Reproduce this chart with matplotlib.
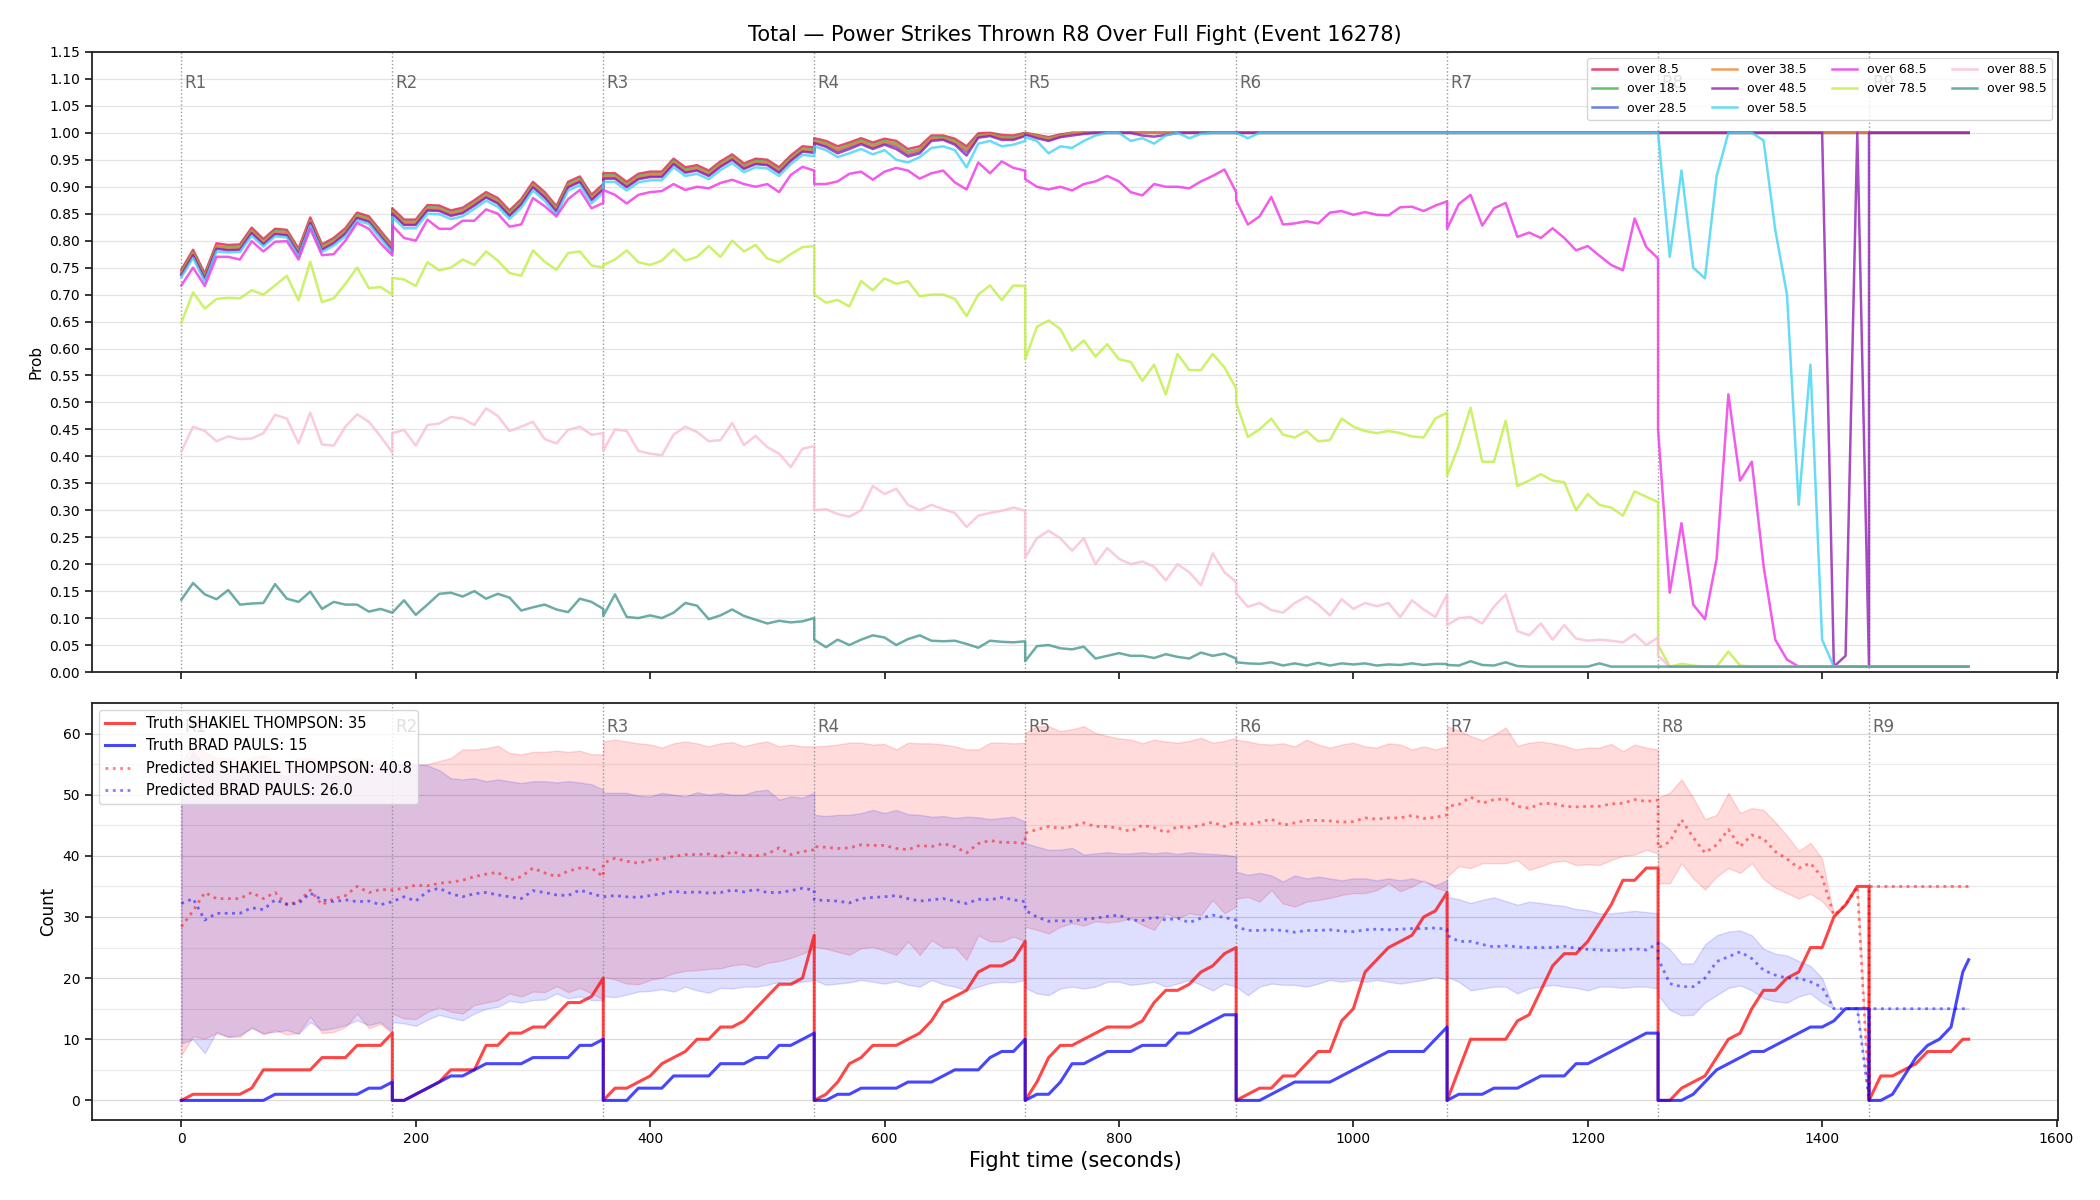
import numpy as np
import matplotlib.pyplot as plt
import matplotlib.transforms as mtransforms
from matplotlib.ticker import FormatStrFormatter, MultipleLocator

# ------------------------------------------------------------------
# time grid: every round sampled every 10 s, round boundary repeated
# so the per-round resets draw as vertical jumps. R9 stops at 1525 s.
# ------------------------------------------------------------------
round_starts = [0, 180, 360, 540, 720, 900, 1080, 1260, 1440]
round_names = ["R1", "R2", "R3", "R4", "R5", "R6", "R7", "R8", "R9"]
offsets = list(range(0, 181, 10))
offsets_r9 = [0, 10, 20, 30, 40, 50, 60, 70, 80, 85]
t = np.array([s + o for s in round_starts[:8] for o in offsets] + [1440 + o for o in offsets_r9])

# ---------------- top panel: P(over x.5) ----------------
over_8_5 = [
    0.746, 0.783, 0.739, 0.795, 0.792, 0.793, 0.824, 0.803, 0.822, 0.820, 0.785, 0.843, 0.793, 0.805, 0.823, 0.852, 0.845, 0.818, 0.792,
    0.860, 0.839, 0.839, 0.866, 0.865, 0.856, 0.861, 0.875, 0.890, 0.879, 0.856, 0.877, 0.909, 0.890, 0.864, 0.909, 0.919, 0.885, 0.905,
    0.925, 0.925, 0.909, 0.924, 0.928, 0.928, 0.952, 0.936, 0.940, 0.930, 0.947, 0.960, 0.943, 0.952, 0.950, 0.936, 0.958, 0.975, 0.973,
    0.990, 0.985, 0.975, 0.982, 0.990, 0.982, 0.989, 0.985, 0.970, 0.975, 0.995, 0.995, 0.989, 0.975, 0.999, 1.000, 0.996, 0.995, 1.000,
    1.000, 0.996, 0.992, 0.997, 1.000] + [1.0] * 14 + [1.0] * 19 * 3 + [1.0] * 10
over_18_5 = [
    0.742, 0.779, 0.736, 0.790, 0.788, 0.789, 0.820, 0.799, 0.818, 0.816, 0.781, 0.838, 0.789, 0.801, 0.819, 0.848, 0.841, 0.814, 0.788,
    0.856, 0.835, 0.835, 0.862, 0.861, 0.852, 0.857, 0.871, 0.886, 0.875, 0.852, 0.873, 0.905, 0.886, 0.860, 0.905, 0.915, 0.881, 0.901,
    0.921, 0.921, 0.905, 0.920, 0.924, 0.924, 0.948, 0.932, 0.936, 0.926, 0.943, 0.956, 0.939, 0.948, 0.946, 0.932, 0.954, 0.971, 0.969,
    0.987, 0.981, 0.970, 0.978, 0.986, 0.978, 0.985, 0.980, 0.965, 0.970, 0.991, 0.992, 0.985, 0.970, 0.996, 0.998, 0.993, 0.992, 0.998,
    0.999, 0.995, 0.990, 0.995, 1.000] + [1.0] * 14 + [1.0] * 19 * 3 + [1.0] * 10
over_28_5 = [
    0.738, 0.775, 0.731, 0.787, 0.784, 0.785, 0.816, 0.795, 0.814, 0.812, 0.777, 0.835, 0.785, 0.797, 0.815, 0.844, 0.837, 0.810, 0.784,
    0.852, 0.831, 0.831, 0.858, 0.857, 0.848, 0.853, 0.867, 0.882, 0.871, 0.848, 0.869, 0.901, 0.882, 0.856, 0.901, 0.911, 0.877, 0.897,
    0.917, 0.917, 0.901, 0.916, 0.920, 0.920, 0.944, 0.928, 0.932, 0.922, 0.939, 0.952, 0.935, 0.944, 0.942, 0.928, 0.950, 0.967, 0.965,
    0.983, 0.977, 0.966, 0.974, 0.982, 0.973, 0.981, 0.975, 0.960, 0.966, 0.988, 0.989, 0.981, 0.965, 0.993, 0.996, 0.990, 0.989, 0.996,
    0.998, 0.993, 0.987, 0.993, 0.998] + [1.0] * 14 + [1.0] * 19 * 3 + [1.0] * 10
over_38_5 = [
    0.740, 0.777, 0.733, 0.789, 0.786, 0.787, 0.818, 0.797, 0.816, 0.814, 0.779, 0.837, 0.787, 0.799, 0.817, 0.846, 0.839, 0.812, 0.786,
    0.854, 0.833, 0.833, 0.860, 0.859, 0.850, 0.855, 0.869, 0.884, 0.873, 0.850, 0.871, 0.903, 0.884, 0.858, 0.903, 0.913, 0.879, 0.899,
    0.919, 0.919, 0.903, 0.918, 0.922, 0.922, 0.946, 0.930, 0.934, 0.924, 0.941, 0.954, 0.937, 0.946, 0.944, 0.930, 0.952, 0.969, 0.967,
    0.985, 0.979, 0.968, 0.976, 0.984, 0.975, 0.983, 0.978, 0.962, 0.968, 0.990, 0.990, 0.983, 0.968, 0.994, 0.997, 0.991, 0.990, 0.997,
    0.999, 0.994, 0.989, 0.994, 0.999] + [1.0] * 14 + [1.0] * 19 * 3 + [1.0] * 10
over_48_5 = [
    0.736, 0.773, 0.729, 0.785, 0.782, 0.783, 0.814, 0.793, 0.812, 0.810, 0.775, 0.833, 0.783, 0.795, 0.813, 0.842, 0.835, 0.808, 0.782,
    0.850, 0.829, 0.829, 0.856, 0.855, 0.846, 0.851, 0.865, 0.880, 0.869, 0.846, 0.867, 0.899, 0.880, 0.854, 0.899, 0.909, 0.875, 0.895,
    0.915, 0.915, 0.899, 0.914, 0.918, 0.918, 0.942, 0.926, 0.930, 0.920, 0.937, 0.950, 0.933, 0.942, 0.940, 0.926, 0.948, 0.965, 0.963,
    0.981, 0.974, 0.962, 0.970, 0.979, 0.970, 0.978, 0.970, 0.956, 0.962, 0.985, 0.987, 0.978, 0.958, 0.991, 0.994, 0.987, 0.987, 0.994,
    0.997, 0.990, 0.985, 0.992, 0.995, 0.998, 1.0, 1.0, 1.0, 1.0, 0.995, 0.993, 0.996, 1.0, 1.0, 1.0, 1.0, 1.0, 1.0,
] + [1.0] * 19 * 2 + [1.0] * 15 + [0.01, 0.03, 1.0, 0.01] + [1.0] * 10
over_58_5 = [
    0.732, 0.768, 0.724, 0.780, 0.778, 0.779, 0.809, 0.789, 0.808, 0.806, 0.771, 0.828, 0.779, 0.791, 0.808, 0.837, 0.831, 0.804, 0.778,
    0.844, 0.823, 0.823, 0.850, 0.849, 0.840, 0.845, 0.859, 0.874, 0.863, 0.840, 0.861, 0.893, 0.874, 0.848, 0.893, 0.903, 0.869, 0.889,
    0.909, 0.909, 0.893, 0.908, 0.912, 0.912, 0.936, 0.920, 0.924, 0.914, 0.931, 0.944, 0.927, 0.936, 0.934, 0.920, 0.942, 0.959, 0.957,
    0.975, 0.968, 0.955, 0.962, 0.970, 0.960, 0.968, 0.950, 0.945, 0.955, 0.972, 0.975, 0.968, 0.936, 0.980, 0.985, 0.975, 0.978, 0.985,
    0.992, 0.985, 0.962, 0.975, 0.972, 0.985, 0.995, 1.0, 1.0, 0.985, 0.990, 0.980, 0.995, 1.0, 0.990, 0.998, 1.0, 1.0, 1.0,
    1.0, 0.99] + [1.0] * 17 + [1.0] * 19 + [
    1.0, 0.77, 0.93, 0.75, 0.73, 0.92, 1.0, 1.0, 1.0, 0.986, 0.82, 0.70, 0.31, 0.57, 0.06, 0.01, 0.01, 0.01, 0.01,
] + [0.01] * 10
over_68_5 = [
    0.717, 0.750, 0.716, 0.770, 0.770, 0.765, 0.799, 0.780, 0.798, 0.799, 0.765, 0.822, 0.773, 0.775, 0.800, 0.833, 0.822, 0.795, 0.773,
    0.828, 0.805, 0.800, 0.839, 0.822, 0.822, 0.837, 0.837, 0.858, 0.850, 0.826, 0.830, 0.879, 0.864, 0.845, 0.877, 0.894, 0.860, 0.870,
    0.894, 0.885, 0.869, 0.885, 0.890, 0.892, 0.905, 0.894, 0.900, 0.897, 0.907, 0.913, 0.905, 0.900, 0.905, 0.890, 0.922, 0.937, 0.930,
    0.905, 0.905, 0.910, 0.924, 0.928, 0.913, 0.928, 0.935, 0.930, 0.915, 0.925, 0.930, 0.908, 0.895, 0.945, 0.925, 0.947, 0.935, 0.930,
    0.914, 0.900, 0.895, 0.900, 0.893, 0.905, 0.910, 0.920, 0.910, 0.890, 0.884, 0.905, 0.900, 0.900, 0.897, 0.910, 0.920, 0.932, 0.890,
    0.875, 0.830, 0.845, 0.881, 0.830, 0.832, 0.836, 0.832, 0.852, 0.855, 0.848, 0.853, 0.848, 0.847, 0.862, 0.863, 0.855, 0.865, 0.873,
    0.822, 0.868, 0.885, 0.828, 0.860, 0.870, 0.807, 0.815, 0.805, 0.823, 0.805, 0.782, 0.790, 0.772, 0.755, 0.745, 0.841, 0.788, 0.767,
    0.450, 0.147, 0.276, 0.125, 0.098, 0.210, 0.515, 0.355, 0.390, 0.197, 0.060, 0.023, 0.01, 0.01, 0.01, 0.01, 0.01, 0.01, 0.01,
] + [0.01] * 10
over_78_5 = [
    0.648, 0.704, 0.674, 0.692, 0.694, 0.693, 0.708, 0.700, 0.717, 0.735, 0.689, 0.761, 0.686, 0.693, 0.720, 0.750, 0.712, 0.714, 0.700,
    0.731, 0.728, 0.716, 0.760, 0.745, 0.750, 0.765, 0.755, 0.780, 0.763, 0.740, 0.735, 0.782, 0.761, 0.746, 0.777, 0.780, 0.754, 0.750,
    0.755, 0.765, 0.782, 0.760, 0.755, 0.763, 0.784, 0.763, 0.770, 0.790, 0.770, 0.800, 0.780, 0.792, 0.767, 0.760, 0.775, 0.788, 0.790,
    0.700, 0.685, 0.690, 0.678, 0.725, 0.708, 0.730, 0.720, 0.725, 0.697, 0.700, 0.700, 0.692, 0.660, 0.700, 0.717, 0.690, 0.717, 0.716,
    0.580, 0.640, 0.652, 0.636, 0.596, 0.615, 0.585, 0.608, 0.580, 0.575, 0.540, 0.570, 0.515, 0.590, 0.560, 0.560, 0.590, 0.565, 0.526,
    0.500, 0.436, 0.450, 0.470, 0.440, 0.435, 0.447, 0.428, 0.430, 0.470, 0.455, 0.447, 0.443, 0.447, 0.443, 0.437, 0.435, 0.470, 0.481,
    0.364, 0.420, 0.490, 0.390, 0.390, 0.466, 0.345, 0.355, 0.367, 0.355, 0.352, 0.300, 0.330, 0.310, 0.305, 0.290, 0.335, 0.325, 0.315,
    0.050, 0.010, 0.015, 0.012, 0.010, 0.010, 0.038, 0.012] + [0.01] * 11 + [0.01] * 10
over_88_5 = [
    0.409, 0.455, 0.447, 0.428, 0.437, 0.432, 0.433, 0.443, 0.477, 0.470, 0.424, 0.481, 0.422, 0.420, 0.455, 0.478, 0.464, 0.437, 0.407,
    0.443, 0.449, 0.420, 0.458, 0.461, 0.473, 0.470, 0.458, 0.489, 0.475, 0.447, 0.455, 0.464, 0.432, 0.424, 0.449, 0.455, 0.440, 0.443,
    0.410, 0.450, 0.447, 0.410, 0.405, 0.402, 0.440, 0.455, 0.445, 0.428, 0.430, 0.462, 0.421, 0.438, 0.417, 0.405, 0.380, 0.414, 0.419,
    0.300, 0.302, 0.293, 0.288, 0.300, 0.345, 0.330, 0.340, 0.310, 0.300, 0.310, 0.302, 0.295, 0.269, 0.290, 0.295, 0.299, 0.305, 0.299,
    0.212, 0.248, 0.262, 0.248, 0.225, 0.248, 0.200, 0.230, 0.210, 0.200, 0.205, 0.195, 0.170, 0.200, 0.185, 0.161, 0.220, 0.185, 0.167,
    0.146, 0.121, 0.128, 0.115, 0.110, 0.128, 0.140, 0.125, 0.105, 0.135, 0.117, 0.128, 0.122, 0.128, 0.102, 0.133, 0.116, 0.102, 0.144,
    0.087, 0.100, 0.102, 0.090, 0.121, 0.144, 0.076, 0.068, 0.090, 0.060, 0.087, 0.062, 0.058, 0.060, 0.058, 0.055, 0.070, 0.050, 0.064,
    0.030] + [0.01] * 18 + [0.01] * 10
over_98_5 = [
    0.134, 0.165, 0.144, 0.135, 0.152, 0.125, 0.127, 0.128, 0.163, 0.136, 0.130, 0.149, 0.117, 0.130, 0.125, 0.125, 0.112, 0.117, 0.110,
    0.110, 0.133, 0.106, 0.125, 0.145, 0.147, 0.140, 0.150, 0.136, 0.145, 0.138, 0.114, 0.120, 0.125, 0.116, 0.111, 0.136, 0.130, 0.117,
    0.104, 0.144, 0.102, 0.100, 0.105, 0.100, 0.110, 0.128, 0.123, 0.098, 0.105, 0.116, 0.104, 0.097, 0.090, 0.095, 0.092, 0.094, 0.100,
    0.060, 0.046, 0.060, 0.050, 0.060, 0.068, 0.064, 0.050, 0.061, 0.068, 0.058, 0.057, 0.058, 0.052, 0.045, 0.058, 0.056, 0.055, 0.057,
    0.020, 0.048, 0.050, 0.044, 0.042, 0.047, 0.025, 0.030, 0.035, 0.030, 0.030, 0.026, 0.033, 0.028, 0.025, 0.036, 0.030, 0.034, 0.025,
    0.018, 0.016, 0.015, 0.018, 0.012, 0.016, 0.012, 0.017, 0.012, 0.016, 0.014, 0.016, 0.012, 0.014, 0.013, 0.016, 0.013, 0.015, 0.015,
    0.013, 0.012, 0.020, 0.013, 0.012, 0.018, 0.011, 0.010, 0.010, 0.010, 0.010, 0.010, 0.010, 0.016, 0.010, 0.010, 0.010, 0.010, 0.010,
] + [0.01] * 19 + [0.01] * 10

line_labels = ["over 8.5", "over 18.5", "over 28.5", "over 38.5", "over 48.5",
               "over 58.5", "over 68.5", "over 78.5", "over 88.5", "over 98.5"]
line_values = [over_8_5, over_18_5, over_28_5, over_38_5, over_48_5,
               over_58_5, over_68_5, over_78_5, over_88_5, over_98_5]
line_colors = ["#e6194b", "#3cb44b", "#4363d8", "#f58231", "#911eb4",
               "#42d4f4", "#f032e6", "#bfef45", "#fabed4", "#469990"]

# ---------------- bottom panel: counts ----------------
truth_thompson = [
    0, 1, 1, 1, 1, 1, 2, 5, 5, 5, 5, 5, 7, 7, 7, 9, 9, 9, 11,
    0, 0, 1, 2, 3, 5, 5, 5, 9, 9, 11, 11, 12, 12, 14, 16, 16, 17, 20,
    0, 2, 2, 3, 4, 6, 7, 8, 10, 10, 12, 12, 13, 15, 17, 19, 19, 20, 27,
    0, 1, 3, 6, 7, 9, 9, 9, 10, 11, 13, 16, 17, 18, 21, 22, 22, 23, 26,
    0, 3, 7, 9, 9, 10, 11, 12, 12, 12, 13, 16, 18, 18, 19, 21, 22, 24, 25,
    0, 1, 2, 2, 4, 4, 6, 8, 8, 13, 15, 21, 23, 25, 26, 27, 30, 31, 34,
    0, 5, 10, 10, 10, 10, 13, 14, 18, 22, 24, 24, 26, 29, 32, 36, 36, 38, 38,
    0, 0, 2, 3, 4, 7, 10, 11, 15, 18, 18, 20, 21, 25, 25, 30, 32, 35, 35,
    0, 4, 4, 5, 6, 8, 8, 8, 10, 10]
truth_pauls = [
    0, 0, 0, 0, 0, 0, 0, 0, 1, 1, 1, 1, 1, 1, 1, 1, 2, 2, 3,
    0, 0, 1, 2, 3, 4, 4, 5, 6, 6, 6, 6, 7, 7, 7, 7, 9, 9, 10,
    0, 0, 0, 2, 2, 2, 4, 4, 4, 4, 6, 6, 6, 7, 7, 9, 9, 10, 11,
    0, 0, 1, 1, 2, 2, 2, 2, 3, 3, 3, 4, 5, 5, 5, 7, 8, 8, 10,
    0, 1, 1, 3, 6, 6, 7, 8, 8, 8, 9, 9, 9, 11, 11, 12, 13, 14, 14,
    0, 0, 0, 1, 2, 3, 3, 3, 3, 4, 5, 6, 7, 8, 8, 8, 8, 10, 12,
    0, 1, 1, 1, 2, 2, 2, 3, 4, 4, 4, 6, 6, 7, 8, 9, 10, 11, 11,
    0, 0, 0, 1, 3, 5, 6, 7, 8, 8, 9, 10, 11, 12, 12, 13, 15, 15, 15,
    0, 0, 1, 4, 7, 9, 10, 12, 21, 23]
pred_thompson = [
    28.4, 31, 34, 33, 33, 33, 34, 33, 34, 32, 32.5, 34.4, 32, 33, 33.5, 35, 34, 34.5, 34.4,
    34.4, 34.7, 35.2, 35.1, 35.5, 35.7, 36, 36.6, 37, 37.3, 36, 36.6, 38, 37.2, 36.6, 37.5, 38, 38, 36.6,
    38.8, 39.6, 39.1, 38.8, 39.3, 39.5, 39.9, 40.2, 40.2, 40.3, 39.8, 40.7, 40.1, 40, 40.3, 41.3, 40.2, 40.7, 41,
    41.5, 41.4, 41.2, 41.3, 41.8, 41.7, 41.7, 41.2, 41, 41.7, 41.5, 42, 41.5, 40.5, 42, 42.5, 42.2, 42.2, 42,
    43.7, 44.3, 44.8, 44.5, 44.8, 45.4, 44.8, 44.8, 44.5, 44, 45, 44.6, 43.8, 44.8, 44.6, 45, 45.5, 44.8, 45.6,
    45.5, 45.1, 45.5, 46, 45, 45.4, 45.8, 45.8, 45.7, 45.5, 45.6, 46.2, 46, 46.2, 46.2, 46.6, 46.1, 46.3, 46.7,
    48.1, 48.4, 49.6, 48.6, 49.2, 49.3, 48.1, 47.8, 48.5, 48.6, 48.1, 48, 48.1, 48.1, 48.5, 48.6, 49.2, 48.9, 49.1,
    41.3, 42.3, 45.9, 43, 40.5, 41.8, 44.3, 41.5, 43.4, 42.8, 40.7, 39.5, 38, 38.8, 36.5, 30.3, 32, 35, 0,
] + [35] * 10
pred_pauls = [
    32.2, 33, 29.5, 30.6, 30.6, 30.6, 31.5, 31.2, 32.8, 32.1, 32.2, 33.9, 32.8, 32.5, 32.8, 32.5, 32.6, 32, 32.5,
    32.5, 33.3, 32.6, 34.2, 34.7, 33.8, 33.3, 33.8, 34, 33.6, 33.3, 33, 34.3, 34, 33.6, 33.5, 34.4, 33.8, 33.3,
    33.3, 33.5, 33.3, 33.2, 33.5, 33.8, 34.2, 34, 34.1, 33.9, 34, 34.4, 34.1, 34.5, 34, 34, 34.3, 34.7, 34.4,
    32.8, 32.7, 32.6, 32.3, 33, 33.2, 33.3, 33.5, 33, 32.6, 32.8, 33, 32.6, 32.2, 32.9, 32.8, 33.2, 32.8, 32.5,
    31.1, 30, 29.3, 29.4, 29.3, 29.6, 29.8, 30.1, 30.3, 29.5, 29.4, 30, 29.5, 29.8, 29.1, 29.8, 30.3, 29.9, 29.5,
    28.4, 27.8, 27.8, 27.9, 27.8, 27.5, 27.8, 27.8, 27.9, 27.7, 27.6, 27.9, 28, 27.9, 28, 28.1, 28.1, 28.2, 28,
    27, 26, 26, 25.5, 25.1, 25.3, 25.1, 25, 25, 25, 25.2, 24.9, 24.7, 24.6, 24.5, 24.6, 24.8, 24.6, 25.7,
    23.2, 19.1, 18.6, 18.6, 20, 22.7, 23.5, 24.3, 23.2, 21.3, 20.5, 20, 20, 19.4, 18.5, 15, 15, 15, 0,
] + [15] * 10
thompson_hi = [
    55, 58.5, 57, 56, 56, 55.5, 56, 56.5, 55.5, 55, 56, 56, 55.5, 55, 55.5, 56, 55.5, 55, 55,
    55, 55, 54.8, 55, 55.5, 56, 57.4, 57.4, 57.6, 58, 56.8, 56.6, 57, 57, 57.2, 57, 57.2, 56.6, 56.6,
    58.7, 59, 58.7, 58.4, 58.2, 57.7, 58.4, 58.7, 58.4, 57.9, 58.4, 58.6, 57.9, 58.4, 58.7, 57.9, 58.2, 57.9, 57.9,
    57.9, 58, 58.2, 58.5, 58.5, 58.2, 58.3, 57.4, 58.5, 58.4, 58.4, 58.2, 57.9, 57.4, 57.4, 58.5, 58.5, 58.4, 58.5,
    60.1, 61.2, 61.2, 60.4, 60.7, 61.2, 60.1, 59.6, 59.2, 59, 58.4, 59, 58.7, 58.5, 58.8, 59.3, 58.5, 58.8, 59.3,
    59, 58.7, 58.3, 58.2, 58.4, 57.9, 59, 58.2, 57.7, 58.2, 58.5, 57.9, 57.7, 58.4, 58.2, 57.4, 57.9, 57.4, 57.9,
    61.2, 60.5, 59.6, 58.9, 59.8, 61, 58, 58.5, 58.7, 58.4, 58, 57.4, 57.7, 57.7, 58.3, 57.1, 58.2, 57.7, 57.4,
    49.5, 50.3, 52.5, 49.5, 46, 46.7, 50.3, 47, 47.8, 47.5, 45.5, 43.3, 40.8, 42.1, 39.5, 30.3, 32, 35, 0,
] + [35] * 10
thompson_lo = [
    7.4, 10.5, 10.1, 11, 10.4, 10.4, 12, 10.8, 11.5, 10.8, 11, 13.7, 11, 11.2, 12, 14.2, 11.8, 12.5, 10.9,
    14.2, 13.4, 13.3, 14.5, 15.2, 14.5, 14.2, 15.6, 16, 16.4, 17.5, 17, 17.8, 17.7, 18.7, 17.7, 18.4, 17.5, 16.5,
    20.2, 19.8, 19.1, 19, 19.7, 20.1, 20.8, 21.2, 21.3, 21.5, 21.6, 22.1, 22.3, 21.8, 22.5, 22.8, 23.3, 24, 24.9,
    25.1, 24.8, 24.3, 23.8, 24.9, 25.1, 24.5, 23.8, 26, 23.8, 26.2, 25, 25.1, 23, 27, 26, 26, 26.8, 26,
    28.4, 27.9, 27.3, 28.4, 29, 28.6, 29.3, 29.1, 29.3, 29.8, 28.7, 27.9, 30.6, 29.8, 30.6, 30.3, 32.8, 30.6, 31.7,
    33, 33.3, 32.5, 34.4, 32.2, 31.7, 32.5, 32.8, 33.1, 33.6, 33.9, 33.9, 34.4, 35.5, 34.2, 35, 36, 34.8, 34.2,
    36.6, 38.3, 38, 38.8, 38.8, 38.8, 39.3, 37.7, 38.3, 39, 39.2, 38.5, 38.6, 38.5, 39.3, 40, 40.2, 41, 40.4,
    35.5, 35.5, 38.8, 36.3, 34.5, 36.6, 38, 37.2, 38.8, 36.2, 34.8, 33.9, 33, 33.8, 32.6, 30.3, 32, 35, 0,
] + [35] * 10
pauls_hi = [
    53, 57, 55, 54, 54, 53.5, 54, 54.5, 53.5, 53, 54, 54.5, 53.5, 53, 53.5, 54, 54, 54.5, 55,
    55, 55, 55, 54.8, 54, 52.7, 52.5, 52.7, 52.2, 52.5, 52.2, 51.9, 52.2, 52.2, 52, 52.2, 52, 51.7, 50.8,
    50.3, 50.3, 50.3, 49.8, 49.7, 50.3, 50, 49.7, 50.4, 50, 50.3, 50, 50, 50.6, 50.8, 49.2, 49.7, 49.5, 50.3,
    46.7, 46.5, 46.7, 46.7, 47, 47.5, 47, 47.5, 46.8, 46.7, 46.4, 46.5, 46.2, 46.4, 46.3, 46, 46.2, 46.4, 45.6,
    42.1, 41.5, 41, 41, 41.3, 40.2, 40.4, 40.6, 40.4, 40.4, 40.6, 40.4, 40.6, 40.3, 40.6, 40.4, 40.3, 40.2, 39.9,
    37.4, 36.9, 37.2, 36.8, 35.8, 36.8, 36.3, 36.6, 36.3, 36, 36.3, 36.3, 36, 36.3, 36, 36.3, 35.8, 35.2, 36,
    33.3, 32.9, 32.3, 32.8, 33.2, 32.6, 32, 32.5, 32.3, 32, 31.8, 31.3, 31.1, 30.6, 30.6, 30.8, 31, 30.8, 30.6,
    26.2, 24.7, 22.4, 22.4, 25.5, 27, 27.6, 27.8, 27, 24.8, 24, 23.7, 22.8, 22, 20, 15, 15, 15, 0,
] + [15] * 10
pauls_lo = [
    9.3, 10, 7.7, 11.2, 10.4, 10.7, 11.8, 11, 11.2, 11.5, 10.9, 12.8, 11.5, 11.8, 12.3, 13.1, 12.3, 12.8, 11.2,
    12.8, 12.6, 12.2, 13.2, 14, 13.5, 13.1, 14.2, 15, 15.3, 16.3, 16, 16.4, 16.5, 17.5, 16.7, 17, 16.4, 16.4,
    17, 16.9, 17.3, 17.8, 17.9, 18.2, 17.8, 18.6, 18, 17.6, 18.4, 18.3, 18.6, 18.6, 18.9, 19.4, 19.1, 19.4, 19.7,
    19.7, 18.9, 19.1, 19.3, 19.7, 19.4, 19.1, 19.5, 18.9, 18.6, 19.7, 19, 18.6, 18, 18.6, 19.2, 19.4, 19.3, 19.7,
    18.4, 17.5, 17.2, 18.3, 18.6, 18.3, 18.6, 19.4, 19.4, 18.9, 19.1, 19.4, 18.6, 19.1, 19.7, 18.9, 18, 19.1, 18.6,
    18.6, 17.2, 18.6, 19.1, 18.9, 18.9, 18.6, 19.1, 19.7, 19.4, 19.7, 19.4, 19.7, 19.4, 19.1, 19.4, 19.7, 20.2, 19.7,
    20.2, 19.4, 18, 18.3, 18.6, 18.6, 17.5, 18.3, 18.6, 18.9, 18.6, 18.4, 18, 18.6, 18.6, 18.4, 18.6, 18.6, 18.3,
    17.2, 14.8, 13.9, 14, 16, 17.2, 18.4, 18.8, 18, 16.7, 16.2, 16, 17, 17.5, 16, 15, 15, 15, 0,
] + [15] * 10

# ------------------------------------------------------------------
fig = plt.figure(figsize=(21, 12), dpi=100)
ax1 = fig.add_axes([0.0438, 0.44, 0.9362, 0.5167])
ax2 = fig.add_axes([0.0438, 0.0667, 0.9362, 0.3475], sharex=ax1)

# top
for vals, lab, col in zip(line_values, line_labels, line_colors):
    ax1.plot(t, vals, color=col, lw=1.8, alpha=0.8, label=lab)

ax1.set_ylim(0, 1.15)
ax1.set_yticks(np.arange(0, 1.1501, 0.05))
ax1.yaxis.set_major_formatter(FormatStrFormatter("%.2f"))
ax1.set_ylabel("Prob", fontsize=11)
ax1.set_title("Total — Power Strikes Thrown R8 Over Full Fight (Event 16278)", fontsize=15, pad=8)
ax1.grid(axis="y", color="#e4e4e4", lw=0.9)
ax1.set_axisbelow(True)
ax1.tick_params(axis="x", labelbottom=False)
ax1.legend(loc="upper right", ncol=4, fontsize=9)

# bottom
ax2.fill_between(t, thompson_lo, thompson_hi, color="red", alpha=0.14, lw=1)
ax2.fill_between(t, pauls_lo, pauls_hi, color="blue", alpha=0.13, lw=1)
ax2.plot(t, truth_thompson, color="red", lw=2.2, alpha=0.72, label="Truth SHAKIEL THOMPSON: 35")
ax2.plot(t, truth_pauls, color="blue", lw=2.2, alpha=0.72, label="Truth BRAD PAULS: 15")
ax2.plot(t, pred_thompson, color="red", ls=":", lw=2, alpha=0.5, label="Predicted SHAKIEL THOMPSON: 40.8")
ax2.plot(t, pred_pauls, color="blue", ls=":", lw=2, alpha=0.5, label="Predicted BRAD PAULS: 26.0")

ax2.set_ylim(-3.2, 65)
ax2.set_yticks(range(0, 61, 10))
ax2.yaxis.set_minor_locator(MultipleLocator(5))
ax2.tick_params(axis="y", which="minor", length=0)
ax2.grid(axis="y", which="major", color="#dadada", lw=0.9)
ax2.grid(axis="y", which="minor", color="#ececec", lw=0.9)
ax2.set_axisbelow(True)
ax2.set_xlim(-76.25, 1601.25)
ax2.set_xticks(range(0, 1601, 200))
ax2.set_xlabel("Fight time (seconds)", fontsize=15)
ax2.set_ylabel("Count", fontsize=12)
ax2.legend(loc="upper left", fontsize=10.5)

# round markers on both panels
for ax in (ax1, ax2):
    trans = mtransforms.blended_transform_factory(ax.transData, ax.transAxes)
    for s, name in zip(round_starts, round_names):
        ax.axvline(s, color="gray", ls=":", lw=1, alpha=0.8, zorder=1)
        ax.text(s + 3, 0.965, name, transform=trans, ha="left", va="top",
                fontsize=12, color="#666666", zorder=1)
    for sp in ax.spines.values():
        sp.set_linewidth(1.3)
        sp.set_color("#222222")
    ax.tick_params(axis="both", which="major", labelsize=10, length=5, width=1.1)

fig.savefig("out.png", dpi=100)
